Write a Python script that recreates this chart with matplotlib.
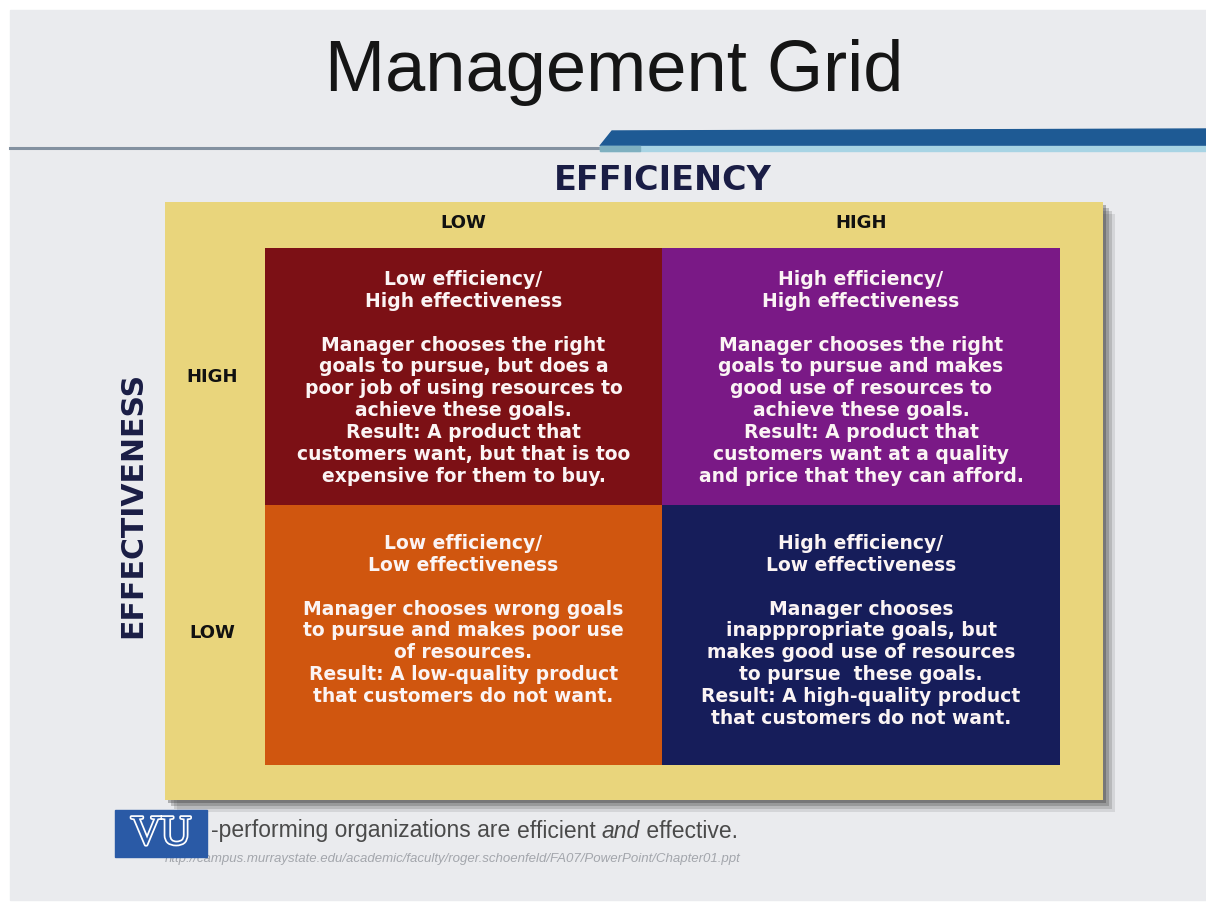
import matplotlib
matplotlib.use('Agg')
import matplotlib.pyplot as plt
import matplotlib.patheffects as pe
from matplotlib.patches import Rectangle, Polygon

# Contenido de la diapositiva
titulo = 'Management Grid'
eje_x = 'EFFICIENCY'
eje_y = 'EFFECTIVENESS'
niveles_x = ['LOW', 'HIGH']
niveles_y = ['HIGH', 'LOW']

# celdas: fila 0 = effectiveness alta, fila 1 = baja
titulos_celda = [
    ['Low efficiency/\nHigh effectiveness', 'High efficiency/\nHigh effectiveness'],
    ['Low efficiency/\nLow effectiveness', 'High efficiency/\nLow effectiveness'],
]
textos_celda = [
    ['Manager chooses the right\ngoals to pursue, but does a\npoor job of using resources to\n'
     'achieve these goals.\nResult: A product that\ncustomers want, but that is too\nexpensive for them to buy.',
     'Manager chooses the right\ngoals to pursue and makes\ngood use of resources to\n'
     'achieve these goals.\nResult: A product that\ncustomers want at a quality\nand price that they can afford.'],
    ['Manager chooses wrong goals\nto pursue and makes poor use\nof resources.\n'
     'Result: A low-quality product\nthat customers do not want.',
     'Manager chooses\ninapppropriate goals, but\nmakes good use of resources\n'
     'to pursue  these goals.\nResult: A high-quality product\nthat customers do not want.'],
]
colores_celda = [['#7c1015', '#7a1986'], ['#d0560f', '#161d5a']]

pie = ['-performing organizations are ', 'efficient ', 'and', ' effective.']
url = 'http://campus.murraystate.edu/academic/faculty/roger.schoenfeld/FA07/PowerPoint/Chapter01.ppt'

W, H = 1206, 906
fig = plt.figure(figsize=(W / 100, H / 100), dpi=100)
ax = fig.add_axes([0, 0, 1, 1])
ax.set_xlim(0, W)
ax.set_ylim(H, 0)
ax.axis('off')
fig.patch.set_facecolor('white')

# fondo de la diapositiva
ax.add_patch(Rectangle((10, 10), W - 10, 890, color='#eaebee', zorder=0))

# titulo
ax.text(614, 72, titulo, ha='center', va='center', fontsize=52,
        family='Liberation Sans', color='#151515')

# lineas de cabecera
ax.plot([10, 602], [148, 148], color='#8391a0', lw=2.2, zorder=1)
ax.add_patch(Polygon([[600, 146], [612, 131], [W, 129], [W, 146]], closed=True, color='#1e5a94', zorder=2))
ax.add_patch(Rectangle((600, 146), W - 600, 5, color='#a8d4e4', zorder=2))
ax.add_patch(Rectangle((600, 146), 40, 5, color='#7fb0c0', zorder=2))

negrita = 'DejaVu Sans'

# eje x
ax.text(663, 180, eje_x, ha='center', va='center', fontsize=24, fontweight='bold',
        family=negrita, color='#1a1d45')

# panel amarillo con sombra
x0, x1, y0, y1 = 165, 1103, 202, 800
for i, a in enumerate([0.12, 0.18, 0.25, 0.35]):
    d = 12 - i * 3
    ax.add_patch(Rectangle((x0 + d, y0 + d), x1 - x0, y1 - y0, color='#3a3a3a', alpha=a, lw=0, zorder=2))
ax.add_patch(Rectangle((x0, y0), x1 - x0, y1 - y0, color='#e9d57c', lw=0, zorder=3))

# celdas
cx = [265, 662, 1060]
cy = [248, 505, 765]
pad_fila = [22, 29]
for f in range(2):
    for c in range(2):
        ax.add_patch(Rectangle((cx[c], cy[f]), cx[c + 1] - cx[c], cy[f + 1] - cy[f],
                               color=colores_celda[f][c], lw=0, zorder=4))
        txt = titulos_celda[f][c] + '\n\n' + textos_celda[f][c]
        ax.text((cx[c] + cx[c + 1]) / 2, cy[f] + pad_fila[f], txt, ha='center', va='top',
                fontsize=13.5, fontweight='bold', family=negrita, color='#fbf4f4',
                linespacing=1.19, zorder=5)

# etiquetas de niveles
for c, lab in enumerate(niveles_x):
    ax.text((cx[c] + cx[c + 1]) / 2, 223, lab, ha='center', va='center', fontsize=13,
            fontweight='bold', family=negrita, color='#111111', zorder=5)
for f, lab in enumerate(niveles_y):
    ax.text(212, [377, 633][f], lab, ha='center', va='center', fontsize=13,
            fontweight='bold', family=negrita, color='#111111', zorder=5)

ax.text(133, 505, eje_y, ha='center', va='center', rotation=90, fontsize=21.5,
        fontweight='bold', family=negrita, color='#1a1d45')

# pie de pagina
t = ax.text(211, 831, pie[0], ha='left', va='center', fontsize=16.5,
            family='Liberation Sans', color='#4a4a4a')
for i, parte in enumerate(pie[1:]):
    t = ax.annotate(parte, xy=(1, 0), xycoords=t, xytext=(0, 0), textcoords='offset points',
                    ha='left', va='bottom', fontsize=16.5, family='Liberation Sans',
                    color='#4a4a4a', style='italic' if parte == 'and' else 'normal')
ax.text(165, 859, url, ha='left', va='center', fontsize=9.5, style='italic',
        family='Liberation Sans', color='#a3a6ac')

# logo VU
ax.add_patch(Rectangle((115, 810), 92, 47, color='#2a5aa6', zorder=6))
ax.text(161, 834, 'VU', ha='center', va='center', fontsize=30, family='Liberation Serif',
        color='#2a5aa6', zorder=7,
        path_effects=[pe.withStroke(linewidth=2.5, foreground='white')])

fig.savefig('out.png', dpi=100)
